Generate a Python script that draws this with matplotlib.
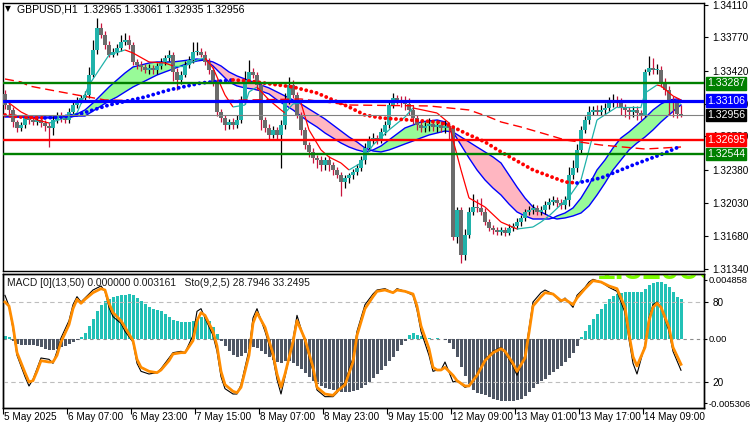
import matplotlib
matplotlib.use('Agg')
import matplotlib.pyplot as plt
import numpy as np
from matplotlib.collections import LineCollection

plt.rcParams['font.family'] = ['Liberation Sans', 'DejaVu Sans']

# ---------------- data ----------------
symbol_title = "GBPUSD,H1  1.32965 1.33061 1.32935 1.32956"
ind_title = "MACD [0](13,50) 0.000000 0.003161   Sto(9,2,5) 28.7946 33.2495"

first_open = 1.3318
closes = [
    1.3306, 1.3301, 1.3288, 1.3282, 1.3285, 1.3292, 1.3290, 1.3288, 1.3290, 1.3287,
    1.3284, 1.3282, 1.3290, 1.3296, 1.3292, 1.3290, 1.3299, 1.3306, 1.3311, 1.3313,
    1.3317, 1.3338, 1.3364, 1.3387, 1.3380, 1.3369, 1.3359, 1.3362, 1.3366, 1.3372,
    1.3374, 1.3369, 1.3351, 1.3348, 1.3346, 1.3343, 1.3345, 1.3343, 1.3347, 1.3351,
    1.3355, 1.3359, 1.3341, 1.3332, 1.3338, 1.3348, 1.3353, 1.3362, 1.3362, 1.3359,
    1.3351, 1.3343, 1.3330, 1.3299, 1.3292, 1.3285, 1.3288, 1.3285, 1.3290, 1.3311,
    1.3332, 1.3341, 1.3338, 1.3327, 1.3290, 1.3282, 1.3275, 1.3280, 1.3275, 1.3285,
    1.3311, 1.3327, 1.3317, 1.3296, 1.3280, 1.3264, 1.3257, 1.3250, 1.3248, 1.3243,
    1.3248, 1.3243, 1.3238, 1.3233, 1.3225, 1.3229, 1.3232, 1.3236, 1.3240, 1.3248,
    1.3261, 1.3269, 1.3271, 1.3269, 1.3278, 1.3285, 1.3306, 1.3313, 1.3311, 1.3309,
    1.3307, 1.3301, 1.3292, 1.3285, 1.3282, 1.3284, 1.3286, 1.3283, 1.3285, 1.3282,
    1.3284, 1.3282, 1.3167, 1.3196, 1.3148, 1.3170, 1.3194, 1.3199, 1.3198, 1.3194,
    1.3183, 1.3177, 1.3175, 1.3173, 1.3175, 1.3172, 1.3177, 1.3179, 1.3183, 1.3187,
    1.3194, 1.3196, 1.3198, 1.3194, 1.3196, 1.3201, 1.3204, 1.3206, 1.3203, 1.3201,
    1.3206, 1.3233, 1.3240, 1.3259, 1.3280, 1.3290, 1.3299, 1.3301, 1.3299, 1.3301,
    1.3303, 1.3308, 1.3311, 1.3309, 1.3303, 1.3301, 1.3299, 1.3301, 1.3298, 1.3296,
    1.3341, 1.3345, 1.3343, 1.3343, 1.3330, 1.3322, 1.3311, 1.3308, 1.32965, 1.32956,
]
up_wick_pips = [
    4, 3, 3, 2, 3, 4, 3, 3, 3, 3,
    3, 4, 4, 3, 3, 3, 4, 5, 3, 4,
    4, 8, 10, 10, 5, 4, 4, 4, 4, 8,
    8, 5, 3, 3, 4, 3, 4, 3, 3, 4,
    4, 5, 3, 4, 4, 4, 4, 10, 10, 4,
    4, 4, 3, 3, 3, 4, 3, 4, 5, 4,
    10, 12, 4, 3, 3, 3, 4, 4, 3, 5,
    8, 8, 5, 3, 3, 3, 3, 4, 4, 4,
    3, 4, 3, 3, 3, 4, 3, 3, 4, 4,
    5, 4, 6, 4, 4, 4, 5, 6, 4, 4,
    6, 6, 5, 4, 5, 4, 6, 4, 5, 4,
    6, 4, 2, 3, 3, 6, 5, 14, 8, 10,
    4, 3, 3, 3, 3, 3, 4, 3, 4, 4,
    3, 4, 4, 3, 4, 4, 4, 4, 3, 4,
    4, 8, 8, 6, 4, 4, 6, 4, 5, 5,
    5, 6, 7, 4, 4, 4, 3, 4, 4, 3,
    3, 12, 10, 6, 4, 4, 4, 4, 4, 9.6,
]
dn_wick_pips = [
    4, 4, 5, 4, 3, 3, 4, 3, 3, 4,
    5, 20, 8, 3, 4, 3, 3, 3, 3, 3,
    3, 4, 3, 4, 4, 4, 3, 3, 3, 3,
    3, 4, 3, 4, 4, 3, 4, 4, 4, 3,
    3, 3, 10, 10, 4, 3, 3, 3, 4, 3,
    3, 4, 4, 5, 4, 5, 4, 4, 3, 3,
    4, 3, 4, 5, 10, 4, 5, 4, 6, 35,
    4, 4, 4, 4, 5, 4, 6, 5, 8, 6,
    5, 6, 5, 4, 15, 6, 5, 4, 4, 3,
    4, 3, 4, 4, 3, 3, 3, 3, 4, 5,
    6, 5, 6, 5, 4, 4, 5, 4, 5, 4,
    5, 12, 3, 6, 8, 5, 4, 4, 4, 4,
    3, 3, 4, 3, 4, 4, 3, 3, 3, 4,
    3, 3, 4, 3, 3, 4, 4, 3, 4, 4,
    4, 6, 5, 4, 3, 3, 4, 4, 3, 4,
    4, 3, 4, 5, 8, 8, 8, 6, 8, 6,
    3, 4, 4, 4, 5, 5, 15, 15, 4, 2.1,
]

# cloud (two blue lines with green / pink fill)
cloud_bars = [0, 4, 8, 12, 16,
              18, 20, 22, 24, 26, 28, 30, 32, 34, 36,
              38, 40, 42, 44, 46, 48, 50, 52, 54, 56,
              58, 60, 62, 64, 66, 68, 70, 72, 74, 76,
              78, 80, 82, 84, 86, 88, 90, 92, 94, 96,
              98, 100, 102, 104, 106, 108, 110, 112, 114, 116,
              118, 120, 122, 124, 126, 128, 130, 132, 134, 136,
              137,
              138, 140, 142, 144, 146, 148, 150, 152, 154, 156,
              158, 160, 162, 164, 166, 168,
              169]
cloud_fast = [1.32944, 1.32934, 1.32924, 1.32924, 1.32944,
              1.32966, 1.33008, 1.33081, 1.33165, 1.33249, 1.33323, 1.33396, 1.33459, 1.33480, 1.33501,
              1.33512, 1.33512, 1.33512, 1.33522, 1.33533, 1.33543, 1.33533, 1.33470, 1.33386, 1.33302,
              1.33260, 1.33239, 1.33228, 1.33207, 1.33176, 1.33113, 1.33060, 1.33008, 1.32944, 1.32882,
              1.32829, 1.32766, 1.32714, 1.32661, 1.32619, 1.32588, 1.32567, 1.32588, 1.32630, 1.32693,
              1.32756, 1.32819, 1.32850, 1.32882, 1.32892, 1.32903, 1.32882, 1.32777, 1.32640, 1.32504,
              1.32378, 1.32273, 1.32188, 1.32115, 1.32020, 1.31937, 1.31895, 1.31863, 1.31863, 1.31863,
              1.31874,
              1.31895, 1.31926, 1.31979, 1.32083, 1.32220, 1.32378, 1.32483, 1.32609, 1.32714, 1.32777,
              1.32850, 1.32924, 1.33008, 1.33071, 1.33113, 1.33123,
              1.33113]
cloud_slow = [1.32934, 1.32934, 1.32934, 1.32934, 1.32934,
              1.32944, 1.32944, 1.32997, 1.33050, 1.33102, 1.33144, 1.33197, 1.33249, 1.33291, 1.33333,
              1.33375, 1.33407, 1.33438, 1.33470, 1.33501, 1.33522, 1.33533, 1.33512, 1.33470, 1.33407,
              1.33365, 1.33333, 1.33302, 1.33270, 1.33239, 1.33197, 1.33155, 1.33113, 1.33071, 1.33018,
              1.32966, 1.32913, 1.32850, 1.32787, 1.32724, 1.32672, 1.32609, 1.32577, 1.32567, 1.32588,
              1.32619, 1.32651, 1.32682, 1.32714, 1.32745, 1.32766, 1.32787, 1.32777, 1.32724, 1.32672,
              1.32619, 1.32567, 1.32514, 1.32451, 1.32325, 1.32199, 1.32083, 1.31989, 1.31937, 1.31895,
              1.31874,
              1.31863, 1.31874, 1.31895, 1.31926, 1.32000, 1.32115, 1.32241, 1.32378, 1.32483, 1.32588,
              1.32661, 1.32724, 1.32798, 1.32882, 1.32956, 1.33029,
              1.33060]

# thin fast MA (teal rising / red falling)
thin_bars = [0, 4, 8, 11, 15, 18, 21, 24, 26, 30,
             32, 36, 40, 42, 45, 48, 50, 52, 55, 57,
             60, 61, 63, 66, 69, 70, 72, 74, 76, 79,
             81, 84, 86, 89, 92, 96, 100, 102, 108, 111,
             112, 114, 116, 120, 124, 128, 132, 134, 136, 141,
             144, 148, 153, 159, 160, 163, 164, 167, 169]
thin_ma = [1.33113, 1.32987, 1.32903, 1.32871, 1.32924, 1.32976, 1.33270, 1.33459, 1.33585, 1.33638,
           1.33606, 1.33512, 1.33501, 1.33470, 1.33470, 1.33533, 1.33554, 1.33449, 1.33165, 1.33039,
           1.33060, 1.33197, 1.33249, 1.33113, 1.33008, 1.32976, 1.33071, 1.33081, 1.32798, 1.32588,
           1.32514, 1.32451, 1.32378, 1.32451, 1.32640, 1.32798, 1.32934, 1.33029, 1.32976, 1.32871,
           1.32693, 1.32378, 1.32084, 1.31989, 1.31831, 1.31758, 1.31779, 1.31831, 1.31895, 1.32094,
           1.32273, 1.32903, 1.33039, 1.33039, 1.33186, 1.33270, 1.33259, 1.33155, 1.33113]

# dotted slow MA (blue rising / red falling)
dot_bars = [0, 4, 10, 14, 18, 26, 35, 41, 49, 57,
            61, 72, 78, 82, 86, 90, 94, 101, 108, 111,
            115, 120, 124, 132, 140, 143, 149, 157, 165, 169]
dot_ma = [1.32955, 1.32934, 1.32924, 1.32934, 1.32955, 1.33060, 1.33144, 1.33218, 1.33291, 1.33323,
          1.33312, 1.33249, 1.33186, 1.33113, 1.33039, 1.32955, 1.32924, 1.32903, 1.32882, 1.32850,
          1.32766, 1.32672, 1.32567, 1.32378, 1.32252, 1.32241, 1.32294, 1.32430, 1.32556, 1.32630]

# dashed long MA
dash_bars = [0, 4, 6, 10, 18, 25, 36, 49, 61, 74,
             86, 106, 116, 121, 124, 129, 135, 140, 149, 160, 169]
dash_ma = [1.33333, 1.33302, 1.33260, 1.33228, 1.33165, 1.33113, 1.33102, 1.33102, 1.33113, 1.33123,
           1.33060, 1.33050, 1.33008, 1.32934, 1.32882, 1.32829, 1.32756, 1.32693, 1.32640, 1.32598,
           1.32619]

# horizontal levels
levels = [1.33287, 1.33106, 1.32956, 1.32695, 1.32544]
level_colors = ['#008000', '#0000FF', '#808080', '#FF0000', '#008000']
level_box_colors = ['#008000', '#0000FF', '#000000', '#FF0000', '#008000']
level_widths = [1.7, 2.3, 0.8, 1.7, 1.7]

price_ticks = [1.34110, 1.33770, 1.33420, 1.33070, 1.32730, 1.32380, 1.32030, 1.31680, 1.31340]

# MACD histogram
macd_hist = [
    0.00021, 0.00016, -0.00016, -0.00041, -0.00049, -0.00049, -0.00049, -0.00049, -0.00058, -0.00066,
    -0.00082, -0.00091, -0.00091, -0.00082, -0.00066, -0.00058, -0.00041, -0.00025, -0.00008, 0.00016,
    0.00049, 0.00107, 0.00165, 0.00230, 0.00280, 0.00313, 0.00329, 0.00346, 0.00354, 0.00362,
    0.00362, 0.00370, 0.00362, 0.00337, 0.00313, 0.00288, 0.00263, 0.00247, 0.00239, 0.00230,
    0.00206, 0.00181, 0.00156, 0.00148, 0.00140, 0.00140, 0.00140, 0.00148, 0.00165, 0.00181,
    0.00181, 0.00148, 0.00099, 0.00041, -0.00016, -0.00058, -0.00099, -0.00132, -0.00148, -0.00140,
    -0.00115, -0.00082, -0.00066, -0.00074, -0.00099, -0.00123, -0.00148, -0.00173, -0.00189, -0.00198,
    -0.00181, -0.00181, -0.00198, -0.00222, -0.00247, -0.00280, -0.00313, -0.00346, -0.00370, -0.00387,
    -0.00403, -0.00412, -0.00420, -0.00428, -0.00436, -0.00436, -0.00436, -0.00428, -0.00420, -0.00403,
    -0.00379, -0.00354, -0.00321, -0.00288, -0.00255, -0.00222, -0.00181, -0.00148, -0.00099, -0.00049,
    -0.00016, 0.00033, 0.00049, 0.00033, 0.00025, 0.00008, 0.00008, 0.00004, 0.00008, 0.00004,
    -0.00008, -0.00033, -0.00082, -0.00148, -0.00230, -0.00305, -0.00370, -0.00420, -0.00444, -0.00453,
    -0.00461, -0.00477, -0.00494, -0.00502, -0.00510, -0.00510, -0.00510, -0.00510, -0.00502, -0.00494,
    -0.00469, -0.00436, -0.00403, -0.00370, -0.00346, -0.00329, -0.00296, -0.00272, -0.00247, -0.00222,
    -0.00189, -0.00156, -0.00115, -0.00058, 0.00016, 0.00066, 0.00115, 0.00165, 0.00206, 0.00247,
    0.00288, 0.00329, 0.00354, 0.00370, 0.00379, 0.00387, 0.00387, 0.00387, 0.00387, 0.00387,
    0.00412, 0.00444, 0.00461, 0.00469, 0.00469, 0.00453, 0.00428, 0.00387, 0.00346, 0.00329,
]
macd_ticks = [0.004858, 0.0, -0.005306]
macd_tick_labels = ['0.004858', '0.00', '-0.005306']

# Stochastic
sto_bars = [0, 1, 2, 3, 5, 6, 7, 8, 9, 11,
            12, 13, 14, 16, 17, 18, 19, 20, 22, 24,
            25, 26, 27, 29, 30, 31, 32, 33, 34, 36,
            38, 39, 41, 42, 44, 45, 47, 48, 49, 50,
            52, 53, 54, 55, 57, 58, 59, 61, 62, 63,
            65, 67, 68, 69, 70, 72, 73, 75, 77, 78,
            80, 82, 83, 85, 87, 88, 90, 92, 93, 95,
            97, 98, 100, 102, 103, 104, 106, 107, 108, 109,
            110, 112, 113, 115, 116, 118, 120, 122, 124, 125,
            127, 128, 130, 131, 132, 134, 135, 137, 139, 140,
            142, 143, 145, 146, 147, 149, 151, 153, 155, 156,
            157, 158, 160, 161, 162, 163, 164, 166, 167, 169]
sto_k = [85, 77, 60, 40, 24, 17, 22, 30, 38, 37,
         34, 43, 53, 66, 78, 84, 80, 83, 89, 92,
         88, 76, 69, 64, 58, 54, 50, 34, 28, 26,
         27, 30, 38, 42, 43, 42, 55, 73, 75, 68,
         55, 43, 24, 15, 11, 11, 18, 44, 68, 75,
         58, 38, 22, 11, 24, 52, 70, 50, 28, 14,
         9, 9, 12, 20, 38, 58, 78, 86, 89, 90,
         87, 90, 88, 85, 74, 58, 40, 28, 29, 29,
         35, 20, 21, 16, 17, 26, 37, 43, 46, 42,
         32, 25, 40, 60, 80, 87, 89, 86, 80, 83,
         76, 85, 91, 95, 97, 95, 91, 88, 72, 52,
         34, 26, 48, 68, 78, 80, 76, 58, 43, 28.79]
sto_d = [80, 77, 62, 42, 27, 20, 21, 28, 36, 35,
         35, 40, 50, 63, 75, 82, 79, 82, 87, 90,
         89, 79, 72, 66, 61, 56, 51, 37, 31, 28,
         27, 29, 36, 41, 42, 42, 51, 66, 72, 70,
         58, 47, 28, 18, 13, 12, 16, 40, 64, 72,
         61, 41, 26, 16, 26, 50, 66, 52, 31, 16,
         11, 10, 13, 18, 35, 55, 75, 84, 88, 89,
         87, 89, 88, 86, 77, 62, 45, 31, 29, 29,
         31, 25, 21, 17, 17, 25, 36, 42, 45, 43,
         34, 28, 38, 57, 77, 84, 87, 86, 81, 82,
         78, 83, 90, 93, 96, 95, 92, 90, 76, 56,
         39, 32, 46, 66, 76, 79, 76, 61, 46, 33.25]
sto_levels = [80, 20]

date_labels = ["5 May 2025", "6 May 07:00", "6 May 23:00", "7 May 15:00", "8 May 07:00",
               "8 May 23:00", "9 May 15:00", "12 May 09:00", "13 May 01:00", "13 May 17:00",
               "14 May 09:00"]
date_label_bars = [-0.5, 15.5, 31.5, 47.5, 63.5, 79.5, 95.5, 111.5, 127.5, 143.5, 159.5]

# ---------------- figure ----------------
W, H = 750, 430
fig = plt.figure(figsize=(W / 100, H / 100), dpi=100)
fig.patch.set_facecolor('white')


def rect(l, t, r, b):
    return [l / W, 1 - b / H, (r - l) / W, (b - t) / H]


ax = fig.add_axes(rect(3, 3, 704, 271))
axi = fig.add_axes(rect(3, 274, 704, 408))
FS = 7.2
XL = (-0.5, 174.75)

# ---- main price panel ----
n = len(closes)
xb = np.arange(n)
c = np.array(closes)
o = np.array([first_open] + closes[:-1])
hi = np.maximum(o, c) + np.array(up_wick_pips) * 1e-4
lo = np.minimum(o, c) - np.array(dn_wick_pips) * 1e-4
bull = c >= o

cb = np.array(cloud_bars)
cf = np.array(cloud_fast)
cs = np.array(cloud_slow)
ax.fill_between(cb, cf, cs, where=cf >= cs, interpolate=True, color='#98FB98', lw=0, zorder=1)
ax.fill_between(cb, cf, cs, where=cf < cs, interpolate=True, color='#FFB6C1', lw=0, zorder=1)
ax.plot(cb, cf, color='#0000FF', lw=1.0, zorder=2)
ax.plot(cb, cs, color='#0000FF', lw=1.0, zorder=2)

ax.vlines(xb[bull], lo[bull], hi[bull], color='black', lw=0.9, zorder=3)
ax.vlines(xb[~bull], lo[~bull], hi[~bull], color='#C8143C', lw=0.9, zorder=3)
body_h = np.maximum(np.abs(c - o), 0.00004)
ax.bar(xb, body_h, bottom=np.minimum(o, c), width=0.78,
       color=np.where(bull, '#20B2AA', '#6B6B6B'), linewidth=0, zorder=3.2)

# thin MA
tb = np.array(thin_bars)
tv = np.array(thin_ma)
segs = [[(tb[k], tv[k]), (tb[k + 1], tv[k + 1])] for k in range(len(tb) - 1)]
tcols = ['#20B2AA' if tv[k + 1] >= tv[k] else '#FF0000' for k in range(len(tb) - 1)]
ax.add_collection(LineCollection(segs, colors=tcols, linewidths=0.9, zorder=4))

# dashed long MA
ax.plot(dash_bars, dash_ma, color='#FF0000', lw=1.0, dashes=(6.5, 3.5), zorder=4)

# dotted MA, coloured by direction
db = np.array(dot_bars)
dv = np.array(dot_ma)
rising = np.diff(dv) > 0
start = 0
for k in range(1, len(rising) + 1):
    if k == len(rising) or rising[k] != rising[start]:
        sl = slice(start, k + 1)
        ax.plot(db[sl], dv[sl], color='#0000FF' if rising[start] else '#FF0000',
                lw=2.8, dashes=(0.01, 1.35), dash_capstyle='round', zorder=4.5)
        start = k

# horizontal levels + right-hand boxes
for lv, lc, lw in zip(levels, level_colors, level_widths):
    ax.axhline(lv, color=lc, lw=lw, zorder=5)
for lv, bc in zip(levels, level_box_colors):
    ax.text(1.004, lv, f"{lv:.5f}", transform=ax.get_yaxis_transform(), ha='left', va='center',
            color='white', fontsize=7.6, clip_on=False, zorder=10,
            bbox=dict(boxstyle='square,pad=0.12', fc=bc, ec=bc))

ax.set_xlim(*XL)
ax.set_ylim(1.31317, 1.34131)
ax.yaxis.tick_right()
ax.set_yticks(price_ticks)
ax.set_yticklabels([f"{t:.5f}" for t in price_ticks])
ax.tick_params(axis='y', direction='out', length=3, width=0.8, labelsize=FS, pad=3)
ax.tick_params(axis='x', bottom=False, labelbottom=False)
for s in ax.spines.values():
    s.set_color('black')
    s.set_linewidth(1.0)

fig.text(5 / W, 1 - 9 / H, "\u25BC", fontsize=5.5, ha='left', va='center',
         family=['DejaVu Sans'])
fig.text(17 / W, 1 - 9 / H, symbol_title, fontsize=7.6, ha='left', va='center', color='black')

# ---- indicator panel ----
hist = np.array(macd_hist)
axi.bar(xb, hist, width=0.75, color=np.where(hist >= 0, '#22C1B6', '#4E5664'), linewidth=0, zorder=2)
axi.axhline(0, color='#8C8C8C', lw=0.8, ls=(0, (3, 3)), zorder=1)
axi.set_xlim(*XL)
axi.set_ylim(-0.00568, 0.00535)
axi.set_xticks(date_label_bars)
axi.set_xticklabels([])
axi.tick_params(axis='x', direction='out', length=4, width=0.8)
for s in axi.spines.values():
    s.set_color('black')
    s.set_linewidth(1.0)

axs = axi.twinx()
# twinx moves the original axis to the left: put the MACD scale back on the right
axi.yaxis.tick_right()
axi.yaxis.set_label_position('right')
axi.set_yticks(macd_ticks)
axi.set_yticklabels(macd_tick_labels)
axi.tick_params(axis='y', which='both', left=False, labelleft=False, right=True, labelright=True,
                direction='out', length=2, width=0.8, labelsize=6.7, pad=1)

axs.set_ylim(0.5, 101)
axs.set_xlim(*XL)
for lv in sto_levels:
    axs.axhline(lv, color='#BDBDBD', lw=0.8, ls=(0, (4, 3)), zorder=1)
axs.plot(sto_bars, sto_k, color='black', lw=0.8, zorder=3)
axs.plot(sto_bars, sto_d, color='#FF8C00', lw=2.0, zorder=4)
axs.set_yticks(sto_levels)
axs.set_yticklabels([str(v) for v in sto_levels])
axs.tick_params(axis='y', direction='out', length=3, width=0.8, labelsize=FS, pad=3)
for s in axs.spines.values():
    s.set_color('black')
    s.set_linewidth(1.0)

# big green price text clipped at the top of the indicator window
axs.text(148, 97.3, "1.32956", fontsize=24, fontweight='bold', color='#7CFC00',
         ha='left', va='baseline', clip_on=True, zorder=0)

axs.text(0.006, 0.93, ind_title, transform=axs.transAxes, fontsize=7.4, color='#1A1A1A',
         ha='left', va='center', zorder=6)

for b, lab in zip(date_label_bars, date_labels):
    axi.text(b + 0.3, -0.03, lab, transform=axi.get_xaxis_transform(), ha='left', va='top',
             fontsize=FS, color='black')

fig.savefig('out.png', dpi=100, facecolor='white')
